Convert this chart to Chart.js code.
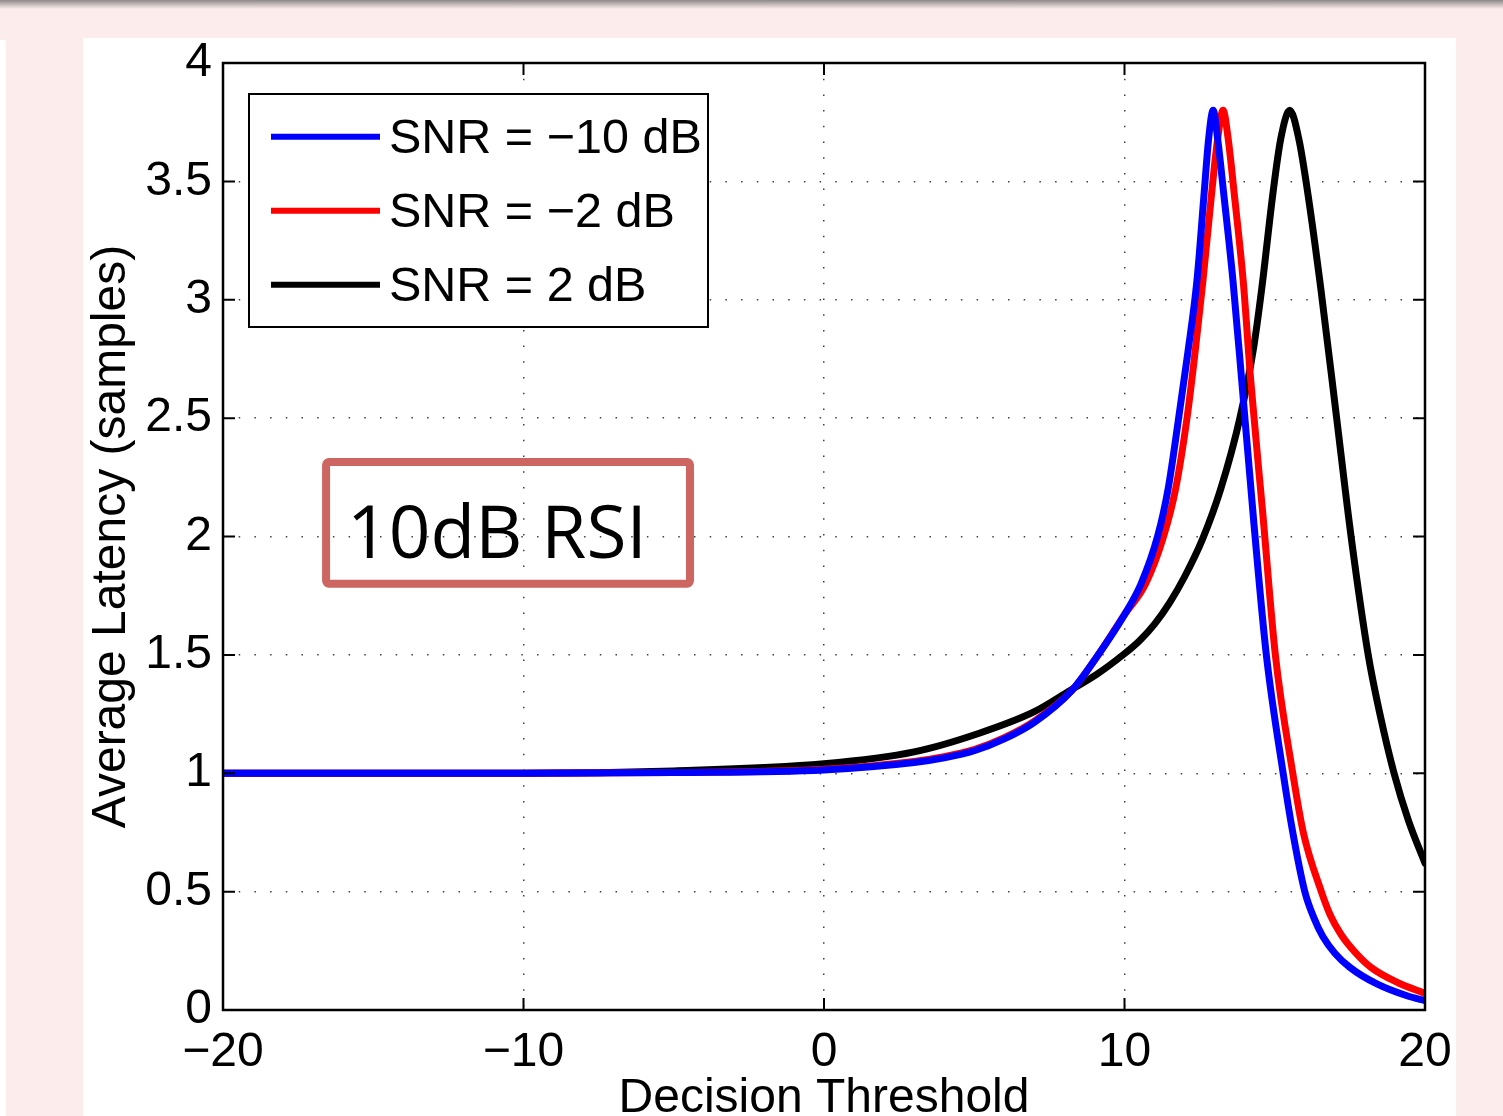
<!DOCTYPE html>
<html lang="en">

<head>
    <meta charset="UTF-8">
    <title>Average Latency x Decision Threshold</title>
    <script src="https://cdn.jsdelivr.net/npm/chart.js"></script>
    <style>
        html, body { margin: 0; padding: 0; overflow: hidden; }
        body { width: 1503px; height: 1116px; background: #fcecec; position: relative; }
        .barra-topo { position: absolute; left: 0; top: 0; width: 100%; height: 9px; background: linear-gradient(#8e8888, #fcecec); }
        .faixa { position: absolute; left: 0; top: 40px; width: 6px; height: 1076px; background: #fff; }
        .painel { position: absolute; left: 83px; top: 38px; width: 1373px; height: 1078px; background: #fff; overflow: hidden; }
        canvas { display: block; }
    </style>
</head>

<body>

    <div class="barra-topo"></div>
    <div class="faixa"></div>

    <div class="painel">
        <canvas id="graficoLatencia" width="1372" height="1100"></canvas>
    </div>

<script>

    // Rotulos e ticks
    const rotulos = ['SNR = \u221210 dB', 'SNR = \u22122 dB', 'SNR = 2 dB'];
    const cores = ['#0000ff', '#ff0000', '#000000'];
    const ticksX = [-20, -10, 0, 10, 20];
    const rotulosX = ['\u221220', '\u221210', '0', '10', '20'];
    const ticksY = [0, 0.5, 1, 1.5, 2, 2.5, 3, 3.5, 4];
    const rotulosY = ['0', '0.5', '1', '1.5', '2', '2.5', '3', '3.5', '4'];

    // SNR = -10 dB (azul)
    const xAzul = [-20, -10, -5, 0, 3, 4, 5, 6, 7, 8.25, 9.07, 10, 10.55, 11.1, 11.45, 11.78, 12.1, 12.41, 12.65, 12.8, 12.95, 13.1, 13.3, 13.61, 13.9, 14.31, 14.72, 15.28, 15.6, 16.0, 16.3, 16.6, 17.0, 17.5, 18.4, 19.4, 20];
    const yAzul = [1.0, 1.0, 1.003, 1.014, 1.045, 1.065, 1.095, 1.145, 1.215, 1.35, 1.49, 1.67, 1.8, 2.0, 2.2, 2.48, 2.77, 3.08, 3.45, 3.68, 3.8, 3.68, 3.45, 3.08, 2.66, 2.05, 1.5, 1.0, 0.75, 0.5, 0.39, 0.31, 0.24, 0.18, 0.11, 0.06, 0.04];

    // SNR = -2 dB (vermelho)
    const xVermelho = [-20, -10, -5, 0, 3, 4, 5, 6, 7, 8.25, 9.07, 10, 10.7, 11.3, 11.7, 12.08, 12.35, 12.61, 12.9, 13.1, 13.28, 13.45, 13.65, 13.95, 14.2, 14.6, 15.02, 15.6, 15.95, 16.55, 16.85, 17.2, 17.7, 18.2, 19.1, 20];
    const yVermelho = [1.0, 1.0, 1.003, 1.017, 1.05, 1.07, 1.1, 1.15, 1.22, 1.35, 1.49, 1.67, 1.8, 2.0, 2.2, 2.5, 2.78, 3.08, 3.45, 3.68, 3.8, 3.68, 3.45, 3.08, 2.66, 2.1, 1.5, 1.0, 0.75, 0.5, 0.4, 0.32, 0.24, 0.18, 0.115, 0.07];

    // SNR = 2 dB (preto)
    const xPreto = [-20, -10, -5, 0, 3, 5.19, 7, 8.19, 9.1, 9.95, 10.5, 11, 11.5, 12, 12.6, 13.2, 13.84, 14.3, 14.57, 14.94, 15.2, 15.5, 15.8, 16.1, 16.53, 17.06, 17.54, 18.11, 18.5, 18.97, 19.45, 20];
    const yPreto = [1.0, 1.0, 1.01, 1.04, 1.09, 1.17, 1.26, 1.35, 1.42, 1.5, 1.56, 1.63, 1.72, 1.83, 1.99, 2.2, 2.5, 2.8, 3.05, 3.45, 3.68, 3.8, 3.68, 3.45, 3.05, 2.5, 2.0, 1.5, 1.25, 1.0, 0.8, 0.62];

    const fonte = "'Liberation Sans', Arial, Helvetica, sans-serif";

    function montarPontos(xs, ys) {
        return xs.map(function (x, i) { return { x: x, y: ys[i] }; });
    }

    // zera o padding automatico dos eixos para a area do grafico ficar fixa
    function semPadding(s) {
        s.paddingTop = 0;
        s.paddingBottom = 0;
        s.paddingLeft = 0;
        s.paddingRight = 0;
    }

    // caixa, ticks para dentro, anotacao e legenda
    const pluginEstiloMatlab = {
        id: 'estiloMatlab',
        afterDraw: function (chart) {
            const ctx = chart.ctx;
            const area = chart.chartArea;
            const sx = chart.scales.x;
            const sy = chart.scales.y;

            ctx.save();

            // ticks para dentro (4 lados)
            ctx.strokeStyle = '#000';
            ctx.lineWidth = 2;
            ctx.beginPath();
            ticksX.forEach(function (v) {
                const px = sx.getPixelForValue(v);
                ctx.moveTo(px, area.bottom); ctx.lineTo(px, area.bottom - 12);
                ctx.moveTo(px, area.top); ctx.lineTo(px, area.top + 12);
            });
            ticksY.forEach(function (v) {
                const py = sy.getPixelForValue(v);
                ctx.moveTo(area.left, py); ctx.lineTo(area.left + 12, py);
                ctx.moveTo(area.right, py); ctx.lineTo(area.right - 12, py);
            });
            ctx.stroke();

            // caixa dos eixos
            ctx.lineWidth = 2.5;
            ctx.strokeRect(area.left, area.top, area.right - area.left, area.bottom - area.top);

            // anotacao "10dB RSI"
            const x0 = sx.getPixelForValue(-16.57);
            const x1 = sx.getPixelForValue(-4.46);
            const y0 = sy.getPixelForValue(2.315);
            const y1 = sy.getPixelForValue(1.80);
            ctx.strokeStyle = '#cd6660';
            ctx.lineWidth = 8;
            ctx.lineJoin = 'round';
            ctx.beginPath();
            ctx.roundRect(x0, y0, x1 - x0, y1 - y0, 3);
            ctx.stroke();
            ctx.fillStyle = '#000';
            ctx.font = "73px 'Open Sans', 'Noto Sans', sans-serif";
            ctx.textAlign = 'left';
            ctx.textBaseline = 'alphabetic';
            ctx.fillText('10dB RSI', x0 + 21, y1 - 26);

            // legenda
            const lx = area.left + 26, ly = area.top + 31;
            ctx.fillStyle = '#fff';
            ctx.fillRect(lx, ly, 459, 233);
            ctx.strokeStyle = '#000';
            ctx.lineWidth = 2;
            ctx.lineJoin = 'miter';
            ctx.strokeRect(lx, ly, 459, 233);

            ctx.font = '48.5px ' + fonte;
            ctx.textBaseline = 'middle';
            chart.data.datasets.forEach(function (ds, i) {
                const yy = area.top + 73.7 + i * 74;
                ctx.strokeStyle = ds.borderColor;
                ctx.lineWidth = 6;
                ctx.beginPath();
                ctx.moveTo(area.left + 48, yy);
                ctx.lineTo(area.left + 157, yy);
                ctx.stroke();
                ctx.fillStyle = '#000';
                ctx.fillText(ds.label, area.left + 166, yy + 2.5);
            });

            ctx.restore();
        }
    };

    const dadosLatencia = {
        datasets: [
            { label: rotulos[0], data: montarPontos(xAzul, yAzul), borderColor: cores[0] },
            { label: rotulos[1], data: montarPontos(xVermelho, yVermelho), borderColor: cores[1] },
            { label: rotulos[2], data: montarPontos(xPreto, yPreto), borderColor: cores[2] }
        ].map(function (ds) {
            return Object.assign(ds, {
                borderWidth: 7,
                pointRadius: 0,
                fill: false,
                cubicInterpolationMode: 'monotone',
                borderCapStyle: 'round',
                borderJoinStyle: 'round'
            });
        })
    };

    const configLatencia = {
        type: 'line',
        data: dadosLatencia,
        options: {
            responsive: false,
            animation: false,
            events: [],
            layout: { padding: { left: 0, top: 25, right: 30, bottom: 0 } },
            plugins: {
                legend: { display: false },
                tooltip: { enabled: false }
            },
            scales: {
                x: {
                    type: 'linear',
                    min: -20,
                    max: 20,
                    afterBuildTicks: function (s) { s.ticks = ticksX.map(function (v) { return { value: v }; }); },
                    afterFit: function (s) { s.height = 128; semPadding(s); },
                    ticks: {
                        color: '#000',
                        padding: 14,
                        maxRotation: 0,
                        font: { family: fonte, size: 48, lineHeight: 1.2 },
                        callback: function (v, i) { return rotulosX[i]; }
                    },
                    grid: { color: 'rgba(0,0,0,0.75)', lineWidth: 1.5, drawTicks: false },
                    border: { display: false, dash: [1.5, 14.2] },
                    title: {
                        display: true,
                        text: 'Decision Threshold',
                        color: '#000',
                        font: { family: fonte, size: 48, lineHeight: 1.2 },
                        padding: { top: 0, bottom: 10 }
                    }
                },
                y: {
                    type: 'linear',
                    min: 0,
                    max: 4,
                    afterBuildTicks: function (s) { s.ticks = ticksY.map(function (v) { return { value: v }; }); },
                    afterFit: function (s) { s.width = 140; semPadding(s); },
                    ticks: {
                        color: '#000',
                        padding: 11,
                        font: { family: fonte, size: 48, lineHeight: 1.0 },
                        callback: function (v, i) { return rotulosY[i]; }
                    },
                    grid: { color: 'rgba(0,0,0,0.75)', lineWidth: 1.5, drawTicks: false },
                    border: { display: false, dash: [1.5, 14.2] },
                    title: {
                        display: true,
                        text: 'Average Latency (samples)',
                        color: '#000',
                        font: { family: fonte, size: 48, lineHeight: 1.2 },
                        padding: { top: 0, bottom: 0 }
                    }
                }
            }
        },
        plugins: [pluginEstiloMatlab]
    };

    let graficoLatencia = new Chart(
        document.getElementById('graficoLatencia'),
        configLatencia
    );

</script>

</body>

</html>
